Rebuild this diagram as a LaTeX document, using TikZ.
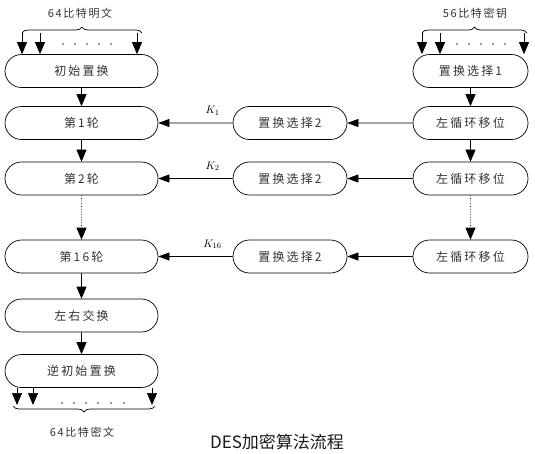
\documentclass[tikz,border=0pt]{standalone}
\usepackage{fontspec}
\setmainfont{Noto Sans CJK SC}
\usetikzlibrary{shapes.misc,arrows.meta,decorations.pathreplacing}
\begin{document}
\begin{tikzpicture}[x=1pt,y=-1pt,
 box/.style={draw,rounded rectangle,minimum height=33pt,inner sep=0pt,line width=0.7pt,
   text=black!80,font=\fontsize{12}{14}\selectfont\addfontfeature{LetterSpace=18}},
 lbox/.style={box,minimum width=153pt},
 mbox/.style={box,minimum width=114pt},
 rbox/.style={box,minimum width=115pt},
 arr/.style={-{Triangle[length=12pt,width=10pt]},line width=0.7pt},
 harr/.style={-{Triangle[length=11pt,width=8pt]},line width=0.7pt},
 dotarr/.style={arr,dotted},
 bracedec/.style={decorate,decoration={brace,amplitude=6pt},line width=0.7pt},
 lab/.style={text=black!80,font=\fontsize{11}{13}\selectfont\addfontfeature{LetterSpace=15}},
 klab/.style={font=\fontsize{11}{12}\selectfont},
 dotmark/.style={circle,fill=black!80,inner sep=0pt,minimum size=1.8pt},
]
\useasboundingbox (0,0) rectangle (535,453);
% left column
\node[lbox] (init) at (81.5,71) {初始置换};
\node[lbox] (r1) at (81.5,123) {第1轮};
\node[lbox] (r2) at (81.5,178.5) {第2轮};
\node[lbox] (r16) at (81.5,256.5) {第16轮};
\node[lbox] (swap) at (81.5,315.5) {左右交换};
\node[lbox] (inv) at (81.5,371) {逆初始置换};
% middle column
\node[mbox] (p1) at (290,123) {置换选择2};
\node[mbox] (p2) at (290,178.5) {置换选择2};
\node[mbox] (p16) at (290,256.5) {置换选择2};
% right column
\node[rbox] (pc1) at (470.5,71) {置换选择1};
\node[rbox] (s1) at (470.5,123) {左循环移位};
\node[rbox] (s2) at (470.5,178.5) {左循环移位};
\node[rbox] (s16) at (470.5,256.5) {左循环移位};
% vertical arrows
\draw[arr] (init) -- (r1);
\draw[arr] (r1) -- (r2);
\draw[dotarr] (r2) -- (r16);
\draw[arr] (r16) -- (swap);
\draw[arr] (swap) -- (inv);
\draw[arr] (pc1) -- (s1);
\draw[arr] (s1) -- (s2);
\draw[dotarr] (s2) -- (s16);
% horizontal arrows
\draw[harr] (s1) -- (p1);
\draw[harr] (s2) -- (p2);
\draw[harr] (s16) -- (p16);
\draw[harr] (p1) -- node[klab,pos=0.27,above=4pt] {$K_1$} (r1);
\draw[harr] (p2) -- node[klab,pos=0.27,above=4pt] {$K_2$} (r2);
\draw[harr] (p16) -- node[klab,pos=0.27,above=4pt] {$K_{16}$} (r16);
% top left input
\node[lab] (plain) at (80,13) {64比特明文};
\coordinate (pa) at (22,33);
\coordinate (pb) at (40,33);
\coordinate (pc) at (137,33);
\draw[bracedec] (22,33) -- (142,33);
\draw[arr] (pa) -- (pa |- init.north);
\draw[arr] (pb) -- (pb |- init.north);
\draw[arr] (pc) -- (pc |- init.north);
\foreach \x [count=\i] in {63,75,87,99,111} \node[dotmark] (pd\i) at (\x,44) {};
% top right input
\node[lab] (key) at (475,13) {56比特密钥};
\coordinate (ka) at (422,33);
\coordinate (kb) at (440,33);
\coordinate (kc) at (524,33);
\draw[bracedec] (422,33) -- (527,33);
\draw[arr] (ka) -- (ka |- pc1.north);
\draw[arr] (kb) -- (kb |- pc1.north);
\draw[arr] (kc) -- (kc |- pc1.north);
\foreach \x [count=\i] in {457,469,481,493,505} \node[dotmark] (kd\i) at (\x,44) {};
% bottom output
\coordinate (ca) at (17,405);
\coordinate (cb) at (33,405);
\coordinate (cc) at (152,405);
\draw[arr] (ca |- inv.south) -- (ca);
\draw[arr] (cb |- inv.south) -- (cb);
\draw[arr] (cc |- inv.south) -- (cc);
\foreach \x [count=\i] in {62,74,86,98,111,124} \node[dotmark] (cd\i) at (\x,403) {};
\draw[bracedec] (155,406) -- (13,406);
\node[lab] (cipher) at (82,432) {64比特密文};
% title
\node[font=\fontsize{17}{20}\selectfont,text=black!90] (title) at (277,442) {DES加密算法流程};
\end{tikzpicture}
\end{document}
